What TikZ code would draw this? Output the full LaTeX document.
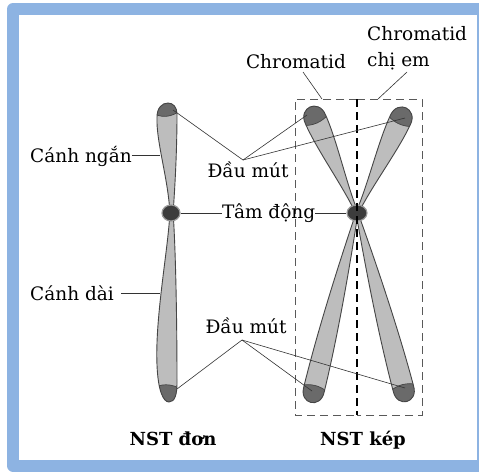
\documentclass[tikz,border=0pt]{standalone}
\usepackage{fontspec}
\setmainfont{DejaVu Serif}
\usetikzlibrary{shapes.geometric}
\begin{document}
% one unit = 1pt, y grows downwards
\definecolor{frameblue}{HTML}{8DB3E2}
\definecolor{armgray}{HTML}{BDBDBD}
\definecolor{capgray}{HTML}{6A6A6A}
\definecolor{armedge}{HTML}{454545}
\definecolor{cengray}{HTML}{3C3C3C}
% outline of a chromatid arm: centromere at the origin, tip at (0,L)
% #1 length, #2 half width near the tip, #3 width of the neck bulge
\newcommand\armpath[3]{(-1.6,7) .. controls ({-#3},{0.3*#1}) and ({-#2},{0.65*#1}) .. ({-#2},{#1-14}) .. controls ({-#2-0.5},{#1-4}) and (-5,{#1}) .. (0,{#1}) .. controls (5,{#1}) and ({#2+0.5},{#1-4}) .. ({#2},{#1-14}) .. controls ({#2},{0.65*#1}) and ({#3},{0.3*#1}) .. (1.6,7) -- cycle}
% arm body #1 with its dark end region #2
\newcommand\capped[2]{%
  \fill[armgray] #1;
  \begin{scope}
    \clip #1;
    \filldraw[fill=capgray, draw=armedge, line width=0.7pt] #2;
  \end{scope}
  \draw[armedge, line width=0.9pt] #1;}
% one chromatid arm placed at (#1,#2), turned by #3
\newcommand\chromatid[6]{%
  \begin{scope}[shift={(#1,#2)}, rotate=#3]
    \capped{\armpath{#4}{#5}{#6}}{({-#5-6},{#4-13}) .. controls (-4,{#4-19}) and (4,{#4-19}) .. ({#5+6},{#4-13}) -- ({#5+6},{#4+6}) -- ({-#5-6},{#4+6}) -- cycle}
  \end{scope}}
\begin{tikzpicture}[x=1pt, y=-1pt,
  lbl/.style={font=\fontsize{18.5}{22}\selectfont, inner sep=0pt, anchor=base},
  title/.style={lbl, font=\fontsize{18}{21}\selectfont\bfseries},
  leader/.style={draw=black!80, line width=0.6pt},
  boxline/.style={draw=black!65, line width=0.9pt, dash pattern=on 8pt off 5pt},
  midline/.style={draw=black, line width=1.6pt, dash pattern=on 8pt off 5pt},
  centro/.style={fill=cengray, draw=black!40, line width=1.2pt}]
\useasboundingbox (0,0) rectangle (479,472);
\begin{scope}
  \clip (0,0) rectangle (479,472);
  \fill[white] (0,0) rectangle (479,472);
  \draw[frameblue, line width=12pt, line join=round] (13,9) rectangle (483,465.5);
\end{scope}

% ---- single chromosome ----
\capped{(169.5,207) .. controls (167,175) and (156,140) .. (157,117) .. controls (157,108) and (162,103) .. (168,103) .. controls (173,103) and (177,107) .. (177,114) .. controls (177,150) and (175,185) .. (173.5,207) -- cycle}
       {(150,111) .. controls (160,119) and (172,118) .. (182,109) -- (182,95) -- (150,95) -- cycle}
\capped{(169.5,219) .. controls (167,255) and (155,320) .. (157,365) .. controls (158,390) and (163,402) .. (169,402) .. controls (175,402) and (177,394) .. (177,383) .. controls (177,330) and (176,260) .. (173.5,219) -- cycle}
       {(150,390) .. controls (160,383) and (172,383) .. (182,390) -- (182,410) -- (150,410) -- cycle}
\node[centro, ellipse, minimum width=18pt, minimum height=16pt, inner sep=0pt] (c1) at (171,213) {};

% ---- double chromosome ----
\chromatid{357}{213}{-13.7}{195}{10.5}{6}
\chromatid{357}{213}{14.8}{195}{10.5}{6}
\chromatid{357}{213}{-156.1}{116}{11}{3}
\chromatid{357}{213}{155.0}{116}{11}{3}
\node[centro, ellipse, minimum width=20pt, minimum height=16pt, inner sep=0pt] (c2) at (357,213) {};

% ---- chromatid frames ----
\draw[boxline] (357,99) -- (295,99) -- (295,415) -- (357,415);
\draw[boxline] (357,99) -- (422,99) -- (422,415) -- (357,415);
\draw[midline] (357,99) -- (357,415);

% ---- labels ----
\node[lbl, anchor=base west] (ngan) at (30,162) {Cánh ngắn};
\node[lbl, anchor=base west] (dai) at (30,300) {Cánh dài};
\node[lbl] (dm1) at (248,177) {Đầu mút};
\node[lbl] (dm2) at (246,333) {Đầu mút};
\node[lbl, anchor=base west] (tam) at (222,218) {Tâm động};
\node[lbl] (chr) at (296,68) {Chromatid};
\node[lbl, anchor=base west] (chr2) at (367,40) {Chromatid};
\node[lbl, anchor=base west] (chiem) at (367,66) {chị em};
\node[title] (don) at (173,445) {NST đơn};
\node[title] (kep) at (363,445) {NST kép};

% ---- leader end points ----
\coordinate (s-short) at (160,155);
\coordinate (s-long) at (160,293);
\coordinate (dm1-apex) at (243,160);
\coordinate (dm2-apex) at (242,340);
\coordinate (tip-s1) at (173,110);
\coordinate (tip-s2) at (177,389);
\coordinate (tip-ul) at (307,115);
\coordinate (tip-ur) at (405,118);
\coordinate (tip-ll) at (312,391);
\coordinate (tip-lr) at (405,388);
\coordinate (chr-a) at (303,72);
\coordinate (chr-b) at (322,99);
\coordinate (chr2-a) at (407,72);
\coordinate (chr2-b) at (378,99);

% ---- leaders ----
\draw[leader] (ngan.east |- s-short) -- (s-short);
\draw[leader] ([xshift=7pt]dai.east |- s-long) -- (s-long);
\draw[leader] (tip-s1) -- (dm1-apex) -- (tip-ul);
\draw[leader] (dm1-apex) -- (tip-ur);
\draw[leader] (tip-s2) -- (dm2-apex) -- (tip-ll);
\draw[leader] (dm2-apex) -- (tip-lr);
\draw[leader] (c1.east) -- (tam.west |- c1);
\draw[leader] (tam.east |- c2) -- (c2.west);
\draw[leader] (chr-a) -- (chr-b);
\draw[leader] (chr2-a) -- (chr2-b);
\end{tikzpicture}
\end{document}
